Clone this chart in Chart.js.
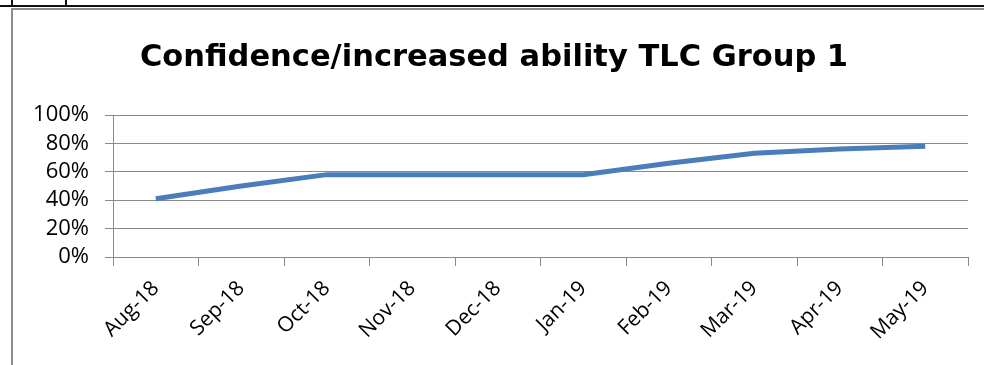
<!DOCTYPE html>
<html>
<head>
<meta charset="utf-8">
<script src="https://cdn.jsdelivr.net/npm/chart.js@4"></script>
<style>
  html, body { margin: 0; padding: 0; background: #fff; }
  body { width: 984px; height: 365px; position: relative; overflow: hidden; }
  #wrap { position: absolute; left: 0; top: 0; width: 984px; height: 365px; }
  /* surrounding table cell lines */
  .rule-top { position: absolute; left: 0; top: 5px; width: 984px; height: 2px; background: #111; }
  .rule-v1 { position: absolute; left: 11px; top: 0; width: 2px; height: 6px; background: #111; }
  .rule-v2 { position: absolute; left: 65px; top: 0; width: 2px; height: 6px; background: #111; }
  .frame { position: absolute; left: 11px; top: 8px; width: 990px; height: 400px;
           border-left: 2px solid #8c8c8c; border-top: 2px solid #8c8c8c; }
</style>
</head>
<body>
<div class="rule-top"></div>
<div class="rule-v1"></div>
<div class="rule-v2"></div>
<div class="frame"></div>
<div id="wrap"><canvas id="c" width="984" height="365"></canvas></div>
<script>
const titleText = 'Confidence/increased ability TLC Group 1';
const months = ['Aug-18', 'Sep-18', 'Oct-18', 'Nov-18', 'Dec-18', 'Jan-19', 'Feb-19', 'Mar-19', 'Apr-19', 'May-19'];
const confidence = [0.41, 0.50, 0.58, 0.58, 0.58, 0.58, 0.66, 0.73, 0.76, 0.78];
const yTicks = [0, 0.2, 0.4, 0.6, 0.8, 1.0];

const FONT = '"Open Sans", sans-serif';
const TITLE_FONT = '"DejaVu Sans", "Open Sans", sans-serif';
const GRID = '#8a8a8a';

new Chart(document.getElementById('c'), {
  type: 'line',
  data: {
    labels: months,
    datasets: [{
      data: confidence,
      borderColor: '#4a7ebb',
      borderWidth: 5,
      pointRadius: 0,
      tension: 0,
      fill: false
    }]
  },
  options: {
    responsive: false,
    animation: false,
    layout: { padding: { left: 20, right: 16, top: 0, bottom: 0 } },
    plugins: {
      legend: { display: false },
      tooltip: { enabled: false },
      title: {
        display: true,
        text: titleText,
        color: '#000',
        font: { family: TITLE_FONT, size: 30.5, weight: 'bold', lineHeight: 1.2 },
        padding: { top: 40, bottom: 38.4 }
      }
    },
    scales: {
      x: {
        offset: true,
        grid: { drawOnChartArea: false, drawTicks: true, tickLength: 9, color: GRID, offset: true },
        border: { display: true, color: GRID, width: 1 },
        ticks: {
          color: '#000',
          font: { family: FONT, size: 21 },
          minRotation: 45,
          maxRotation: 45,
          padding: 10,
          autoSkip: false
        },
        afterFit: s => { s.height = 108; }
      },
      y: {
        min: 0,
        max: 1,
        afterBuildTicks: s => { s.ticks = yTicks.map(v => ({ value: v })); },
        grid: { color: GRID, lineWidth: 1, tickLength: 8, drawTicks: true },
        border: { display: true, color: GRID, width: 1 },
        ticks: {
          color: '#000',
          font: { family: FONT, size: 22, lineHeight: 1 },
          padding: 16,
          autoSkip: false,
          callback: v => Math.round(v * 100) + '%'
        },
        afterFit: s => { s.width = 93; }
      }
    }
  }
});
</script>
</body>
</html>
